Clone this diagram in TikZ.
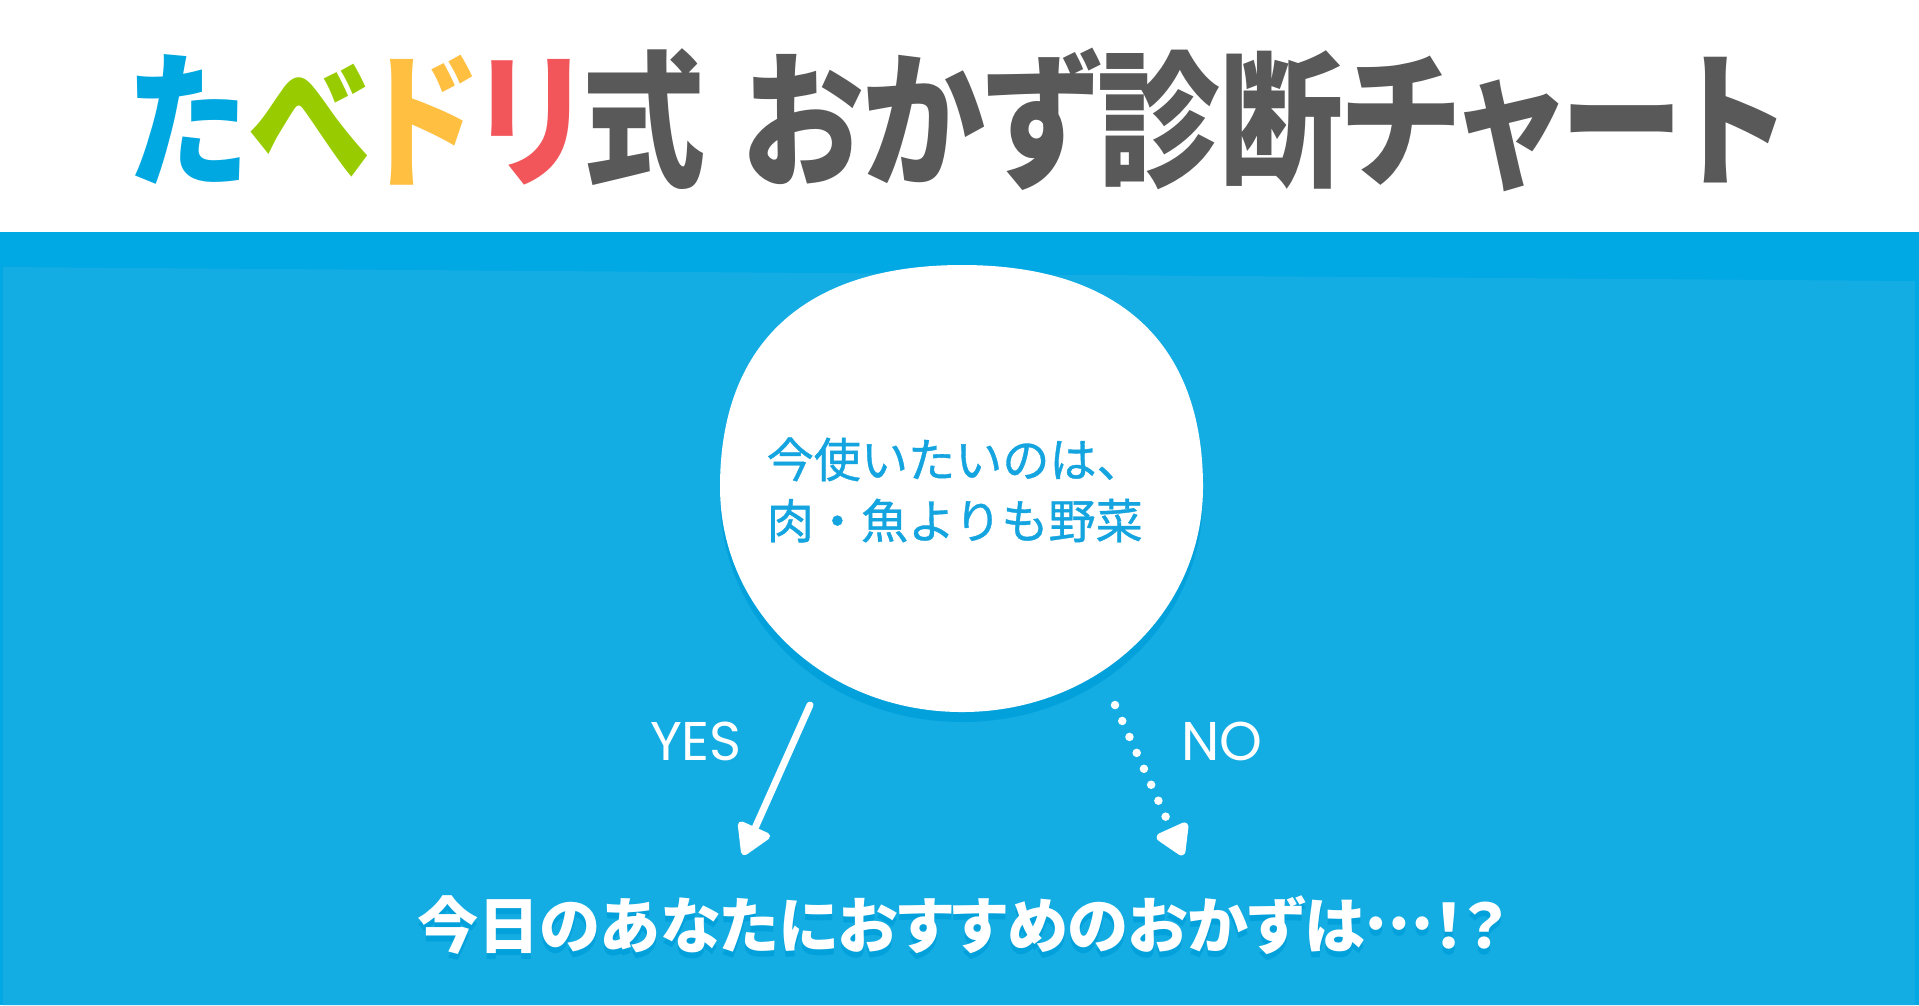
\documentclass[tikz,border=0pt]{standalone}
\usepackage{fontspec}
\newfontfamily\jpfont{Noto Sans CJK JP}[FakeBold=0.8]
\newfontfamily\jpprop{Noto Sans CJK JP}[RawFeature=+palt]
\newfontfamily\enfont{Poppins}
\usetikzlibrary{arrows.meta, positioning}

\definecolor{skyblue}{HTML}{13ADE3}
\definecolor{deepblue}{HTML}{00A8E4}
\definecolor{shadowblue}{HTML}{03A1DC}
\definecolor{textblue}{HTML}{14A4DF}
\definecolor{titlegray}{HTML}{595959}
\definecolor{tblue}{HTML}{00A8E2}
\definecolor{tgreen}{HTML}{99CC00}
\definecolor{tyellow}{HTML}{FFBF40}
\definecolor{tred}{HTML}{F2555A}

\begin{document}
\begin{tikzpicture}[x=0.01cm, y=-0.01cm,
	answer/.style={text=white, inner sep=0pt, font=\enfont\fontsize{15.5}{18}\selectfont},
	result/.style={inner sep=0pt, font=\jpprop\bfseries\fontsize{17.4}{20}\selectfont},
	flow/.style={draw=white, line width=0.07cm, line cap=round, -{Triangle[length=0.34cm, width=0.38cm, round]}}]
		
		\useasboundingbox (0,0) rectangle (1919,1005);
		\fill[white] (0,0) rectangle (1919,232);
		\fill[deepblue] (0,232) rectangle (1919,1005);
		\fill[skyblue] (3,267) -- (1915,281) -- (1915,1005) -- (3,1005) -- cycle;
		
		\node[inner sep=0pt, text=titlegray, font=\jpprop\bfseries\fontsize{35}{40}\selectfont] (title) at (957,120)
			{\scalebox{1}[1.2]{\textcolor{tblue}{た}\textcolor{tgreen}{べ}\textcolor{tyellow}{ド}\textcolor{tred}{リ}式\hspace{0.3em}おかず診断チャート}};
		
		% bubble and its shadow
		\foreach \dy/\col in {10/shadowblue, 0/white}
			\fill[\col, shift={(0,\dy)}] (962,265) .. controls (1119,265) and (1203,343) .. (1203,487)
				.. controls (1203,613) and (1097,712) .. (962,712)
				.. controls (827,712) and (720,613) .. (720,487)
				.. controls (720,343) and (805,265) .. (962,265) -- cycle;
		
		\node[anchor=west, align=left, inner sep=0pt, text=textblue, font=\jpfont\fontsize{13.4}{17.4}\selectfont] (question) at (766,490) {今使いたいのは、\\肉・魚よりも野菜};
		
		\coordinate (yesstart) at (810,705);
		\coordinate (yesend) at (743,855);
		\coordinate (nostart) at (1115,705);
		\coordinate (noend) at (1183,855);
		
		\draw[flow] (yesstart) -- (yesend);
		\draw[flow, dash pattern=on 0pt off 0.175cm, line width=0.085cm] (nostart) -- (noend);
		
		\node[answer] (yes) at (696,741) {YES};
		\node[answer] (no) at (1222,741) {NO};
		
		\node[result, text=shadowblue] (resultshadow) at (962,931) {今日のあなたにおすすめのおかずは\raisebox{0.3em}{…}！？};
		\node[result, text=white] (result) at (962,925) {今日のあなたにおすすめのおかずは\raisebox{0.3em}{…}！？};
	\end{tikzpicture}
\end{document}
